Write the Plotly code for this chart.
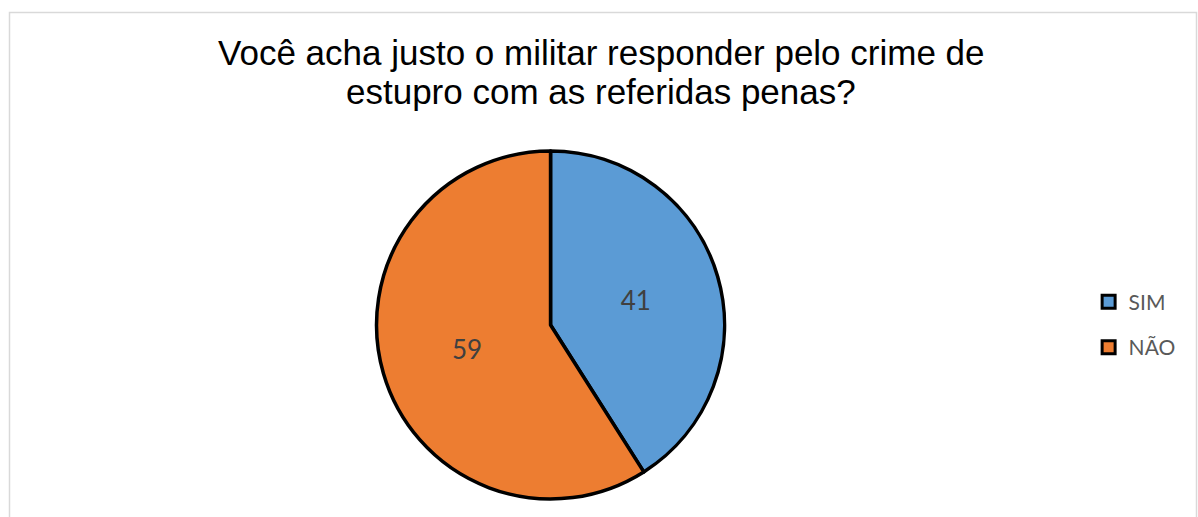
import plotly.graph_objects as go

# Survey answers (percent)
labels = ["SIM", "NÃO"]
values = [41, 59]
colors = ["#5B9BD5", "#ED7D31"]

title_lines = ["Você acha justo o militar responder pelo crime de",
               "estupro com as referidas penas?"]

W, H = 1198, 517

fig = go.Figure()

fig.add_trace(go.Pie(
    labels=labels,
    values=values,
    sort=False,
    direction="clockwise",
    rotation=0,
    marker=dict(colors=colors, line=dict(color="#000000", width=3.5)),
    textinfo="value",
    textposition="inside",
    insidetextfont=dict(family="Lato, Liberation Sans, sans-serif", size=26, color="#404040"),
    showlegend=False,
    hoverinfo="label+value",
    domain=dict(x=[0.3143, 0.6048], y=[0.0348, 0.708]),
))

# Legend entries as square swatches
for lab, col in zip(labels, colors):
    fig.add_trace(go.Scatter(
        x=[None], y=[None], mode="markers", name=lab,
        legendgroup=lab,
        marker=dict(symbol="square", size=13, color=col,
                    line=dict(color="#000000", width=3)),
    ))

# Two-line title, one annotation per line
title_y = [52, 91]
annotations = [
    dict(text=t, xref="paper", yref="paper",
         x=601 / W, xanchor="center",
         y=1 - yy / H, yanchor="middle",
         showarrow=False,
         font=dict(family="Liberation Sans, Arial, sans-serif", size=35, color="#000000"))
    for t, yy in zip(title_lines, title_y)
]

fig.update_layout(
    width=W, height=H,
    margin=dict(l=0, r=0, t=0, b=0),
    paper_bgcolor="#FFFFFF",
    plot_bgcolor="#FFFFFF",
    xaxis=dict(visible=False),
    yaxis=dict(visible=False),
    annotations=annotations,
    legend=dict(
        x=0.9087, xanchor="left",
        y=0.372, yanchor="middle",
        font=dict(family="Lato, Liberation Sans, sans-serif", size=21, color="#595959"),
        tracegroupgap=15,
        itemwidth=30,
        bgcolor="rgba(0,0,0,0)",
    ),
    shapes=[dict(
        type="rect", xref="paper", yref="paper",
        x0=9.5 / W, x1=1196.5 / W, y0=-0.1, y1=1 - 12.5 / H,
        line=dict(color="#D9D9D9", width=1.5),
        fillcolor="rgba(0,0,0,0)", layer="below",
    )],
)

fig.write_html("out.html")
